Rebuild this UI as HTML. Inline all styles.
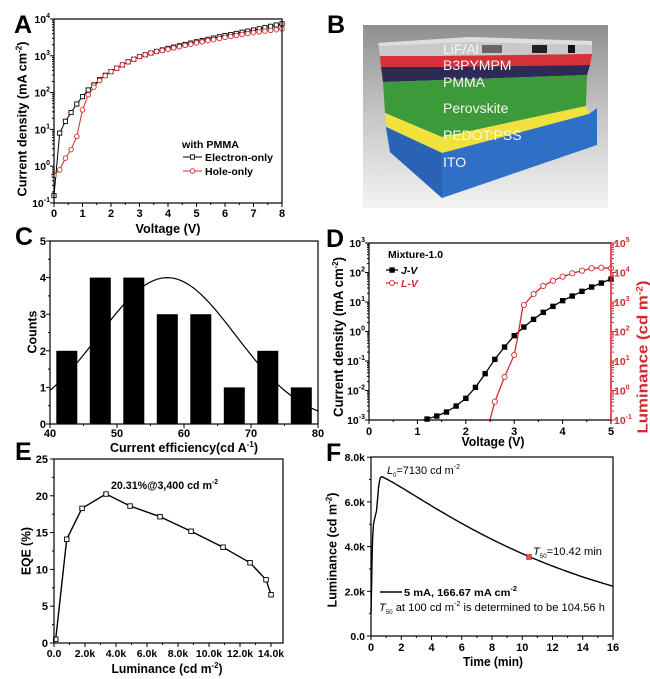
<!DOCTYPE html>
<html><head><meta charset="utf-8">
<style>
html,body{margin:0;padding:0;background:#fff;}
svg{display:block;font-family:"Liberation Sans",Arial,sans-serif;}
</style></head><body>
<svg id="s" width="650" height="679" viewBox="0 0 650 679" xmlns="http://www.w3.org/2000/svg">
<defs>
<linearGradient id="bg" x1="0" y1="0" x2="0" y2="1">
<stop offset="0" stop-color="#8f8f8f"/><stop offset="0.45" stop-color="#c2c2c2"/><stop offset="1" stop-color="#f3f3f3"/>
</linearGradient>
</defs>
<rect width="650" height="679" fill="#fff"/>
<!-- Panel B -->
<rect x="363" y="25" width="245" height="183" fill="url(#bg)"/>
<polygon points="378,43 470,37 592,41 592,54 442,56 380,56" fill="#c9c9c9"/>
<polygon points="378,43 470,37 592,41 592,45 470,42 380,46" fill="#dedede"/>
<rect x="482" y="45" width="20" height="8" fill="#666"/>
<rect x="532" y="45" width="15" height="8" fill="#222"/>
<rect x="568" y="45" width="7" height="8" fill="#111"/>
<polygon points="380,56 442,56 592,54 590,65 442,67 381,67" fill="#d6303b"/>
<polygon points="381,67 442,67 590,65 587,75 442,80 383,82" fill="#2e2a56"/>
<polygon points="383,82 442,80 587,75 586,106 442,137 385,113" fill="#3d9a3b"/>
<polygon points="385,113 442,137 586,106 589,114 442,153 387,127" fill="#f0e13c"/>
<polygon points="386,127 442,153 589,114 597,108 597,145 442,198 390,152" fill="#2f6fc6"/>
<polygon points="386,127 442,153 442,198 390,152" fill="#2a63b6"/>
<g font-size="14" fill="#f5f5f5" font-weight="normal">
<text x="443" y="54">LiF/Al</text>
<text x="443" y="70">B3PYMPM</text>
<text x="443" y="87">PMMA</text>
<text x="443" y="113">Perovskite</text>
<text x="443" y="140">PEDOT:PSS</text>
<text x="443" y="167">ITO</text>
</g>
<!-- Panel letters -->
<g font-size="25" font-weight="bold">
<text x="14" y="33">A</text>
<text x="327" y="33">B</text>
<text x="15" y="245">C</text>
<text x="326" y="247">D</text>
<text x="15" y="460">E</text>
<text x="326" y="461">F</text>
</g>
<g id="dyn"></g>
</svg>
<script>
let out='';
const R='#d42a2f';
function L(x1,y1,x2,y2,c,w){out+=`<line x1="${x1}" y1="${y1}" x2="${x2}" y2="${y2}" stroke="${c||'#000'}" stroke-width="${w||1}"/>`;}
function T(x,y,s,o){o=o||{};const sz=o.size||11,a=o.anchor||'start',wt=o.weight||'bold',f=o.fill||'#000';
 const tl=o.len?` textLength="${o.len}" lengthAdjust="spacingAndGlyphs"`:'';
 const tr=o.rot?` transform="rotate(-90 ${x} ${y})"`:'';
 out+=`<text x="${x}" y="${y}" font-size="${sz}" text-anchor="${a}" font-weight="${wt}" fill="${f}"${tl}${tr}>${s}</text>`;}
function RT(cx,cy,s,sz,len,fill){T(cx+sz*0.36,cy,s,{size:sz,anchor:'middle',len:len,rot:true,fill:fill});}
function box(x,y,w,h){out+=`<rect x="${x}" y="${y}" width="${w}" height="${h}" fill="none" stroke="#000" stroke-width="1.2"/>`;}
function interp(an,v){for(let i=0;i<an.length-1;i++){const a=an[i],b=an[i+1];if(v>=a[0]-1e-9&&v<=b[0]+1e-9)return a[1]+(b[1]-a[1])*(v-a[0])/(b[0]-a[0]);}return an[an.length-1][1];}
function poly(pts,c,w){out+=`<polyline points="${pts.map(p=>p[0].toFixed(1)+','+p[1].toFixed(1)).join(' ')}" fill="none" stroke="${c}" stroke-width="${w||1}" stroke-linejoin="round"/>`;}
function sq(x,y,s,c,fill){out+=`<rect x="${(x-s/2).toFixed(1)}" y="${(y-s/2).toFixed(1)}" width="${s}" height="${s}" fill="${fill||'#fff'}" stroke="${c||'#000'}" stroke-width="0.9"/>`;}
function ci(x,y,r,c){out+=`<circle cx="${x.toFixed(1)}" cy="${y.toFixed(1)}" r="${r}" fill="#fff" stroke="${c}" stroke-width="0.9"/>`;}
function logTicksY(x,ymap,lo,hi,dir,c){for(let e=lo;e<=hi;e++){const y=ymap(e);L(x,y,x+dir*4,y,c);if(e<hi)for(let m=2;m<10;m++){const yy=ymap(e+Math.log10(m));L(x,yy,x+dir*2,yy,c);}}}

// ---------- Panel A ----------
{const ax=v=>54+v*28.5, ay=l=>19+(4-l)*36.8;
const eA=[[0,-0.8],[0.2,0.9],[0.4,1.22],[0.6,1.46],[0.8,1.69],[1,1.89],[1.2,2.07],[1.4,2.21],[1.6,2.35],[1.8,2.47],[2,2.57],[2.5,2.8],[3,2.98],[3.5,3.1],[4,3.2],[5,3.38],[6,3.55],[7,3.7],[8,3.87]];
const hA=[[0,-0.25],[0.2,-0.1],[0.4,0.22],[0.6,0.45],[0.8,0.81],[1,1.53],[1.2,1.94],[1.4,2.15],[1.6,2.33],[1.8,2.46],[2,2.57],[2.5,2.8],[3,2.98],[3.5,3.1],[4,3.18],[5,3.35],[6,3.5],[7,3.63],[8,3.73]];
let pe=[],ph=[];for(let i=0;i<=40;i++){const v=i*0.2;pe.push([ax(v),ay(interp(eA,v))]);ph.push([ax(v),ay(interp(hA,v))]);}
poly(pe,'#000',1);pe.forEach(p=>sq(p[0],p[1],4.2,'#000'));
poly(ph,R,1);ph.forEach(p=>ci(p[0],p[1],2.3,R));
box(54,19,228,184);
for(let k=0;k<=16;k++){const v=k*0.5;L(ax(v),203,ax(v),203+(k%2?2:4));}
for(let v=0;v<=8;v++)T(ax(v),217,v,{size:11,anchor:'middle'});
logTicksY(54,ay,-1,4,-1,'#000');
for(let e=-1;e<=4;e++)T(50,ay(e)+4,`10<tspan dy="-5" font-size="7">${e}</tspan>`,{size:10.5,anchor:'end'});
RT(22,119,'Current density (mA cm<tspan dy="-5" font-size="8">-2</tspan><tspan dy="5">)</tspan>',12.5,155);
T(168,233,'Voltage (V)',{size:12.5,anchor:'middle',len:65});
T(182,148,'with PMMA',{size:10.5,len:57});
L(183,157,202,157,'#000',1);sq(192.5,157,4.2,'#000');T(205,161,'Electron-only',{size:10.5,len:68});
L(183,171,202,171,R,1);ci(192.5,171,2.3,R);T(205,175,'Hole-only',{size:10.5,len:48});
}
// ---------- Panel C ----------
{const cx=v=>50+(v-40)*6.7, cy=c=>424-c*36.6;
let g=[];for(let v=40;v<=80.01;v+=0.5)g.push([cx(v),cy(4*Math.exp(-Math.pow(v-57.5,2)/(2*10.2*10.2)))]);
poly(g,'#000',1.2);
const h=[2,4,4,3,3,1,2,1];
h.forEach((c,i)=>{const xc=cx(42.5+5*i);out+=`<rect x="${(xc-10.5).toFixed(1)}" y="${cy(c).toFixed(1)}" width="21" height="${(c*36.6).toFixed(1)}" fill="#000"/>`;});
box(50,241,268,183);
for(let k=0;k<=10;k++){const y=cy(k*0.5);L(50,y,50-(k%2?2:4),y);}
for(let c=0;c<=5;c++)T(46,cy(c)+4,c,{size:11,anchor:'end'});
for(let v=40;v<=80;v+=5)L(cx(v),424,cx(v),424+((v%10)?2:4));
for(let v=40;v<=80;v+=10)T(cx(v),437,v,{size:11,anchor:'middle'});
RT(32,332,'Counts',13,43);
T(184,452,'Current efficiency(cd A<tspan dy="-5" font-size="8">-1</tspan><tspan dy="5">)</tspan>',{size:12.5,anchor:'middle',len:148});
}
// ---------- Panel D ----------
{const dx=v=>369+v*48.4, dj=l=>243+(3-l)*29.5, dl=l=>243+(5-l)*29.5;
const J=[[1.2,419],[1.4,416],[1.6,412],[1.8,406],[2.0,398.3],[2.2,387.3],[2.4,373.7],[2.6,359.3],[2.8,347],[3.0,335.7],[3.2,327],[3.4,319.3],[3.6,312.3],[3.8,306.3],[4.0,300.7],[4.2,296],[4.4,291.3],[4.6,287],[4.8,283],[5.0,279]];
const Lv=[[2.6,401.7],[2.8,377],[3.0,355],[3.2,305],[3.4,294],[3.6,286],[3.8,280.7],[4.0,276.7],[4.2,273.3],[4.4,270.7],[4.6,268.3],[4.8,267.7],[5.0,268.3]];
let pj=[[dx(1.12),420]].concat(J.map(p=>[dx(p[0]),p[1]]));
poly(pj,'#000',1.3);J.forEach(p=>sq(dx(p[0]),p[1],4.5,'#000','#000'));
let pl=[[dx(2.5),420]].concat(Lv.slice(0,3).map(p=>[dx(p[0]),p[1]])).concat([[dx(3.08),335],[dx(3.18),306]]).concat(Lv.slice(3).map(p=>[dx(p[0]),p[1]]));
poly(pl,R,1.3);Lv.forEach(p=>ci(dx(p[0]),p[1],2.6,R));
L(369,243,611,243,'#000',1.2);L(369,243,369,420,'#000',1.2);L(369,420,611,420,'#000',1.2);
L(611,242,611,421,R,1.6);
logTicksY(369,dj,-3,3,-1,'#000');
logTicksY(612,dl,-1,5,1,R);
for(let e=-3;e<=3;e++)T(365,dj(e)+4,`10<tspan dy="-5" font-size="7">${e}</tspan>`,{size:10.5,anchor:'end'});
for(let e=-1;e<=5;e++)T(614,dl(e)+4,`10<tspan dy="-5" font-size="7">${e}</tspan>`,{size:10.5,fill:R});
for(let k=0;k<=10;k++){const v=k*0.5;L(dx(v),420,dx(v),420+(k%2?2:4));}
for(let v=0;v<=5;v++)T(dx(v),435,v,{size:11,anchor:'middle'});
RT(338,337,'Current density (mA cm<tspan dy="-5" font-size="8">-2</tspan><tspan dy="5">)</tspan>',13.5,160);
RT(642,357,'Luminance (cd m<tspan dy="-5" font-size="9">-2</tspan><tspan dy="5">)</tspan>',15,153,R);
T(493,446,'Voltage (V)',{size:12.5,anchor:'middle',len:63});
T(388,258,'Mixture-1.0',{size:10.5,len:55});
L(386,270,398,270,'#000',1.3);sq(392,270,4.5,'#000','#000');
T(401,274,'<tspan font-style="italic">J</tspan>-<tspan font-style="italic">V</tspan>',{size:10.5});
L(386,283,398,283,R,1.3);ci(392,283,2.6,R);
T(401,287,'<tspan font-style="italic">L</tspan>-<tspan font-style="italic">V</tspan>',{size:10.5,fill:R});
}
// ---------- Panel E ----------
{const ex=k=>54+k*15.5, ey=v=>643-v*7.36;
const P=[[55.7,639.3],[66.7,539.3],[82,508.3],[106,494],[130,506],[160,516.7],[191,531.3],[223,547.3],[250,562.7],[266,579.7],[271,594.7]];
poly(P,'#000',1.4);P.forEach(p=>sq(p[0],p[1],4.5,'#000'));
box(54,459,229,184);
for(let k=0;k<=10;k++){const y=ey(k*2.5);L(54,y,54-(k%2?2:4),y);}
for(let v=0;v<=25;v+=5)T(48,ey(v)+4,v,{size:11,anchor:'end'});
for(let k=0;k<=14;k++)L(ex(k),643,ex(k),643+(k%2?2:4));
for(let k=0;k<=14;k+=2)T(ex(k),657,k==0?'0.0':k+'.0k',{size:10.5,anchor:'middle'});
RT(26,551,'EQE (%)',13,48);
T(167,673,'Luminance (cd m<tspan dy="-5" font-size="8">-2</tspan><tspan dy="5">)</tspan>',{size:12.5,anchor:'middle',len:111});
T(111,489,'20.31%@3,400 cd m<tspan dy="-5" font-size="7">-2</tspan>',{size:11,len:107});
}
// ---------- Panel F ----------
{const fx=t=>371+t*15.125, fy=k=>636-k*22.35;
let C=[[371,613],[371.5,590],[372,562],[372.6,538],[373.5,524],[375,517],[376.5,511],[377.5,500],[378.5,488],[379.5,481],[380.5,477.6]];
for(let t=0.7;t<=16.001;t+=0.1){const Lk=7.13*Math.exp(-Math.pow((t-0.7)/13.4,1.14));C.push([fx(t),fy(Lk)]);}
poly(C,'#000',1.4);
out+=`<rect x="526.5" y="554.5" width="5" height="5" fill="#e05050" stroke="#c02020" stroke-width="0.6"/>`;
box(371,457,242,179);
for(let k=0;k<=8;k++){const y=fy(k);L(371,y,371-(k%2?2:4),y);}
for(let k=0;k<=8;k+=2)T(365,fy(k)+4,k==0?'0.0':k+'.0k',{size:10.5,anchor:'end'});
for(let t=0;t<=16;t++)L(fx(t),636,fx(t),636+(t%2?2:4));
for(let t=0;t<=16;t+=2)T(fx(t),651,t,{size:11,anchor:'middle'});
RT(332,550,'Luminance (cd m<tspan dy="-5" font-size="8">-2</tspan><tspan dy="5">)</tspan>',12.5,115);
T(493,666,'Time (min)',{size:12.5,anchor:'middle',len:60});
T(387,474,'<tspan font-style="italic">L</tspan><tspan dy="3" font-size="6">0</tspan><tspan dy="-3">=7130 cd m</tspan><tspan dy="-5" font-size="7">-2</tspan>',{size:11,weight:'normal',len:73});
T(533,555,'<tspan font-style="italic">T</tspan><tspan dy="3" font-size="6">50</tspan><tspan dy="-3">=10.42 min</tspan>',{size:11,weight:'normal',len:69});
L(380,592,402,592,'#000',1.4);
T(404,596,'5 mA, 166.67 mA cm<tspan dy="-5" font-size="7">-2</tspan>',{size:10.5,len:113});
T(379,611,'<tspan font-style="italic">T</tspan><tspan dy="3" font-size="6">50</tspan><tspan dy="-3"> at 100 cd m</tspan><tspan dy="-5" font-size="7">-2</tspan><tspan dy="5"> is determined to be 104.56 h</tspan>',{size:11,weight:'normal',len:226});
}
document.getElementById('dyn').innerHTML=out;
</script>
</body></html>
